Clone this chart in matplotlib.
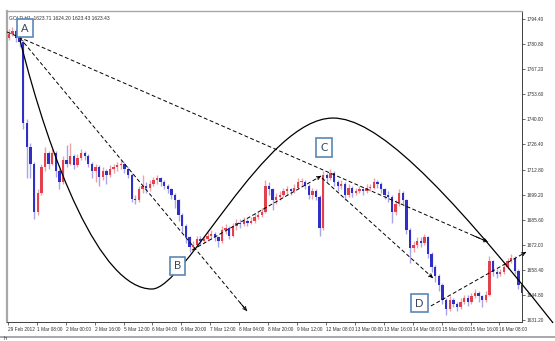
import numpy as np
import matplotlib.pyplot as plt
from matplotlib.path import Path
from matplotlib.patches import PathPatch
from matplotlib.lines import Line2D
from matplotlib import font_manager

W, H, DPI = 555, 341, 100

# GOLD H1, 29 Feb - 16 Mar 2012, grouped into 2-hour candles
first_open = 1784
closes = [1786, 1788, 1784, 1782, 1738, 1725, 1716, 1690, 1700, 1714,
          1722, 1716, 1722, 1712, 1706, 1718, 1716, 1720, 1715, 1719,
          1722, 1720, 1716, 1712, 1714, 1709, 1712, 1710, 1713, 1714,
          1715, 1716, 1713, 1710, 1697, 1696, 1702, 1704, 1703, 1705,
          1707, 1708, 1706, 1704, 1702, 1699, 1696, 1688, 1682, 1676,
          1671, 1672, 1675, 1674, 1675, 1677, 1678, 1676, 1674, 1680,
          1681, 1677, 1682, 1684, 1683, 1685, 1684, 1685, 1687, 1688,
          1690, 1704, 1702, 1696, 1698, 1699, 1701, 1702, 1701, 1703,
          1706, 1706, 1704, 1699, 1701, 1698, 1681, 1710, 1708, 1711,
          1706, 1704, 1705, 1699, 1703, 1700, 1701, 1702, 1701, 1703,
          1703, 1706, 1705, 1702, 1699, 1698, 1690, 1694, 1700, 1696,
          1680, 1670, 1672, 1674, 1673, 1676, 1667, 1660, 1655, 1650,
          1642, 1637, 1642, 1640, 1638, 1641, 1643, 1641, 1644, 1646,
          1644, 1642, 1645, 1663, 1657, 1656, 1657, 1660, 1663, 1665,
          1658, 1650, 1646]
highs = [1789, 1790, 1789, 1786, 1783, 1740, 1727, 1717, 1702, 1716,
         1725, 1723, 1724, 1723, 1713, 1720, 1726, 1727, 1721, 1721,
         1724, 1723, 1721, 1717, 1716, 1715, 1714, 1713, 1715, 1716,
         1717, 1718, 1717, 1714, 1711, 1699, 1704, 1710, 1706, 1707,
         1709, 1710, 1709, 1707, 1705, 1703, 1700, 1697, 1689, 1683,
         1677, 1674, 1677, 1677, 1677, 1679, 1680, 1679, 1677, 1682,
         1683, 1682, 1684, 1686, 1686, 1687, 1686, 1687, 1689, 1690,
         1692, 1707, 1706, 1703, 1700, 1701, 1703, 1704, 1703, 1705,
         1708, 1708, 1707, 1705, 1703, 1702, 1699, 1712, 1711, 1713,
         1712, 1707, 1707, 1706, 1705, 1704, 1703, 1704, 1703, 1705,
         1705, 1708, 1707, 1706, 1703, 1701, 1699, 1696, 1702, 1701,
         1697, 1681, 1674, 1676, 1676, 1678, 1677, 1668, 1661, 1656,
         1651, 1643, 1644, 1643, 1641, 1643, 1645, 1645, 1646, 1648,
         1647, 1645, 1647, 1666, 1664, 1659, 1659, 1662, 1665, 1667,
         1666, 1659, 1651]
lows = [1783, 1785, 1782, 1779, 1735, 1708, 1708, 1686, 1688, 1699,
        1712, 1713, 1715, 1709, 1702, 1705, 1714, 1715, 1713, 1714,
        1718, 1718, 1714, 1708, 1706, 1704, 1707, 1705, 1709, 1711,
        1712, 1713, 1711, 1708, 1695, 1694, 1695, 1700, 1700, 1701,
        1704, 1705, 1704, 1702, 1700, 1697, 1692, 1685, 1679, 1673,
        1668, 1669, 1671, 1672, 1673, 1674, 1675, 1674, 1671, 1673,
        1678, 1675, 1676, 1680, 1681, 1682, 1682, 1683, 1684, 1686,
        1687, 1689, 1699, 1691, 1694, 1696, 1698, 1699, 1699, 1700,
        1702, 1704, 1702, 1697, 1697, 1696, 1677, 1680, 1706, 1707,
        1704, 1701, 1702, 1696, 1698, 1698, 1699, 1700, 1699, 1700,
        1701, 1702, 1703, 1700, 1697, 1695, 1684, 1688, 1693, 1694,
        1678, 1662, 1668, 1670, 1671, 1672, 1665, 1657, 1652, 1647,
        1640, 1634, 1636, 1638, 1636, 1637, 1640, 1639, 1640, 1643,
        1641, 1638, 1641, 1644, 1655, 1654, 1655, 1656, 1659, 1662,
        1656, 1648, 1644]

tick_hours = list(range(0, 273, 16))
tick_labels = ["29 Feb 2012", "1 Mar 08:00", "2 Mar 00:00", "2 Mar 16:00",
               "5 Mar 12:00", "6 Mar 04:00", "6 Mar 20:00", "7 Mar 12:00",
               "8 Mar 04:00", "8 Mar 20:00", "9 Mar 12:00", "12 Mar 08:00",
               "13 Mar 00:00", "13 Mar 16:00", "14 Mar 08:00", "15 Mar 00:00",
               "15 Mar 16:00", "16 Mar 08:00"]
price_ticks = [1794.40, 1780.80, 1767.20, 1753.60, 1740.00, 1726.40, 1712.80,
               1699.20, 1685.60, 1672.00, 1658.40, 1644.80, 1631.20]

# wave point labels (hour, price)
wave_names = ["A", "B", "C", "D"]
wave_x = [9.5, 93.9, 174.9, 227.8]
wave_y = [1789.5, 1660.5, 1724.7, 1640.4]

# dashed projection lines: start hour, start price, end hour, end price
proj_lines = [
    (-0.5, 1787.4, 265.7, 1673.5),
    (6.7, 1784.1, 132.3, 1636.1),
    (101.9, 1669.1, 173.3, 1709.3),
    (173.8, 1708.2, 235.2, 1654.0),
    (234.1, 1638.8, 286.7, 1668.0),
]

# hand drawn wave: cubic bezier anchors / control points (hour, price)
wave_curve = [(6.7, 1783.0), (23.3, 1718.0), (51.0, 1648.0), (79.7, 1648.0),
              (98.0, 1648.0), (142.3, 1740.7), (179.9, 1740.7),
              (203.2, 1740.7), (239.1, 1707.1), (301.7, 1629.6)]

UP_BODY, DN_BODY = "#e2404c", "#2f2fc8"
UP_WICK, DN_WICK = "#eba3ab", "#a9a6e6"
BOX_EDGE = "#5b87b8"

installed = {f.name for f in font_manager.fontManager.ttflist}
SMALL_FONT = "Liberation Sans Narrow" if "Liberation Sans Narrow" in installed else "Liberation Sans"

fig = plt.figure(figsize=(W / DPI, H / DPI), dpi=DPI)
ax = fig.add_axes([7 / W, 1 - 322 / H, 515 / W, 311 / H])

opens = [first_open] + closes[:-1]
xs = np.arange(len(closes)) * 2 + 0.5
o = np.array(opens, float)
c = np.array(closes, float)
hi = np.array(highs, float)
lo = np.array(lows, float)
up = c >= o

ax.vlines(xs[up], lo[up], hi[up], color=UP_WICK, lw=1.0, zorder=2)
ax.vlines(xs[~up], lo[~up], hi[~up], color=DN_WICK, lw=1.0, zorder=2)
body = np.maximum(np.abs(c - o), 0.5)
ax.bar(xs[up], body[up], bottom=np.minimum(o, c)[up], width=1.3, color=UP_BODY, lw=0, zorder=3)
ax.bar(xs[~up], body[~up], bottom=np.minimum(o, c)[~up], width=1.3, color=DN_BODY, lw=0, zorder=3)

ax.set_xlim(-0.5, 284.5)
ax.set_ylim(1630.12, 1798.74)

# axes in MetaTrader style
ax.yaxis.tick_right()
ax.set_yticks(price_ticks)
ax.set_yticklabels([f"{v:.2f}" for v in price_ticks])
ax.set_xticks(tick_hours)
ax.set_xticklabels(tick_labels, ha="left")
ax.tick_params(axis="both", labelsize=3.4, length=2, width=0.5, pad=1.5, colors="#303030")
for lab in ax.get_xticklabels() + ax.get_yticklabels():
    lab.set_family(SMALL_FONT)
for s in ("top", "left"):
    ax.spines[s].set_color("#a8a8a8")
ax.spines["left"].set_linewidth(1.6)
ax.spines["top"].set_linewidth(1.0)
for s in ("right", "bottom"):
    ax.spines[s].set_color("#404040")
    ax.spines[s].set_linewidth(0.7)

ax.text(0.004, 0.985, "GOLD,H1  1623.71 1624.20 1623.43 1623.43", family=SMALL_FONT,
        transform=ax.transAxes, va="top", ha="left", fontsize=3.6, color="#303030")

# projection lines with arrowheads
for x0, y0, x1, y1 in proj_lines:
    ax.plot([x0, x1], [y0, y1], color="black", lw=0.7, ls=(0, (4, 2.5)),
            zorder=4, clip_on=False)
    ax.annotate("", xy=(x1, y1), xytext=(x1 - (x1 - x0) * 0.03, y1 - (y1 - y0) * 0.03),
                arrowprops=dict(arrowstyle="->", lw=0.7, color="black",
                                mutation_scale=6, shrinkA=0, shrinkB=0),
                annotation_clip=False, zorder=4)

codes = [Path.MOVETO] + [Path.CURVE4] * 9
ax.add_patch(PathPatch(Path(wave_curve, codes), fill=False, lw=0.9,
                       edgecolor="black", zorder=4, clip_on=False))

for name, x, y in zip(wave_names, wave_x, wave_y):
    ax.text(x, y, name, ha="center", va="center", fontsize=8, family="Lato",
            color="#3c4656", zorder=6,
            bbox=dict(boxstyle="square,pad=0.35", fc="white", ec=BOX_EDGE, lw=1.2))

# chart tab strip below the time axis
fig.add_artist(Line2D([0, 1], [1 - 337 / H, 1 - 337 / H], transform=fig.transFigure,
                      color="#9a9a9a", lw=1.2))
fig.text(4 / W, 1 - 338 / H, "h", fontsize=3.6, color="#303030", va="center")

fig.savefig("out.png", dpi=DPI)
